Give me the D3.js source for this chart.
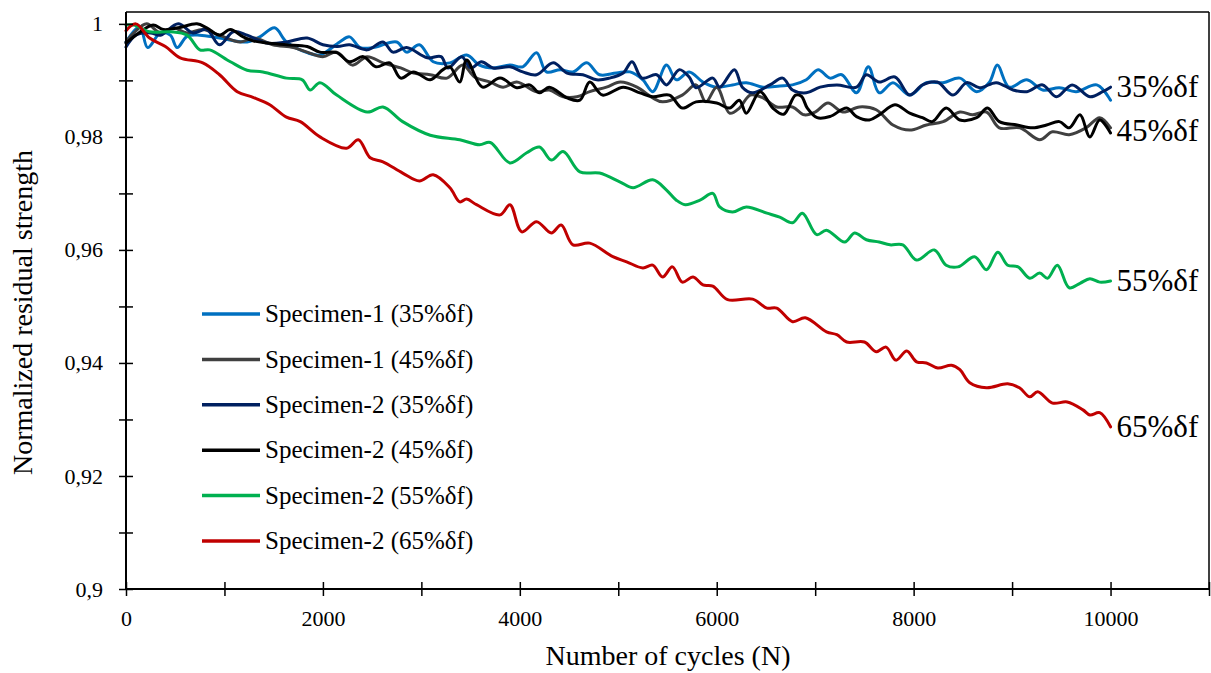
<!DOCTYPE html>
<html>
<head>
<meta charset="utf-8">
<script src="https://cdn.jsdelivr.net/npm/d3@7"></script>
<style>
  html, body { margin: 0; padding: 0; background: #fff; }
  svg { display: block; font-family: "Liberation Serif", "Times New Roman", serif; }
</style>
</head>
<body>
<svg id="chart" width="1211" height="673"></svg>
<script>
// Residual strength measurements: cycle counts and normalized strength per specimen/load level
const s1_35_cycles = [0,140,220,350,450,520,620,750,950,1230,1360,1510,1630,1840,1970,2170,2270,2380,2510,2750,2850,2980,3120,3290,3460,3590,3730,3900,4030,4170,4270,4410,4540,4680,4810,4980,5120,5250,5350,5490,5590,5720,5860,6000,6160,6300,6470,6640,6770,6910,7030,7150,7270,7420,7540,7650,7790,7960,8130,8300,8470,8640,8770,8850,8970,9150,9310,9480,9650,9860,10000];
const s1_35_values = [0.9968,0.9995,0.9958,0.9984,0.9980,0.9958,0.9978,0.9980,0.9975,0.9968,0.9977,0.9993,0.9968,0.9949,0.9945,0.9968,0.9977,0.9958,0.9958,0.9968,0.9950,0.9963,0.9933,0.9931,0.9945,0.9927,0.9922,0.9927,0.9924,0.9949,0.9915,0.9919,0.9915,0.9931,0.9910,0.9913,0.9915,0.9901,0.9880,0.9927,0.9901,0.9915,0.9897,0.9888,0.9892,0.9896,0.9888,0.9890,0.9892,0.9901,0.9919,0.9904,0.9910,0.9878,0.9924,0.9878,0.9896,0.9874,0.9896,0.9896,0.9904,0.9880,0.9897,0.9927,0.9888,0.9901,0.9883,0.9887,0.9880,0.9892,0.9865];

const s1_45_cycles = [0,80,210,350,480,620,780,950,1160,1300,1490,1700,1840,2000,2140,2300,2450,2610,2790,2920,3090,3260,3420,3540,3700,3830,3970,4170,4300,4440,4580,4710,4880,5020,5190,5350,5450,5650,5790,5890,6000,6130,6230,6340,6470,6610,6770,6890,7000,7130,7280,7450,7620,7790,7960,8130,8300,8470,8600,8740,8870,9080,9280,9410,9580,9750,9890,10000];
const s1_45_values = [0.9968,0.9984,1.0000,0.9984,0.9993,0.9984,0.9990,0.9980,0.9968,0.9975,0.9963,0.9958,0.9950,0.9942,0.9950,0.9927,0.9942,0.9931,0.9922,0.9913,0.9910,0.9904,0.9927,0.9906,0.9897,0.9888,0.9897,0.9880,0.9883,0.9871,0.9871,0.9880,0.9888,0.9897,0.9888,0.9869,0.9862,0.9874,0.9892,0.9862,0.9888,0.9842,0.9851,0.9874,0.9869,0.9853,0.9853,0.9839,0.9844,0.9860,0.9844,0.9853,0.9848,0.9821,0.9812,0.9821,0.9827,0.9844,0.9839,0.9844,0.9816,0.9816,0.9795,0.9809,0.9804,0.9816,0.9834,0.9816];

const s2_35_cycles = [0,100,250,350,530,680,820,950,1090,1230,1430,1630,1840,2000,2150,2270,2450,2610,2710,2850,3060,3200,3270,3410,3500,3610,3730,3900,4030,4170,4340,4480,4640,4780,4910,5050,5140,5240,5390,5490,5620,5720,5790,5960,6030,6180,6260,6365,6540,6670,6770,6910,7050,7220,7420,7520,7650,7810,7960,8090,8240,8400,8540,8670,8840,9010,9150,9310,9450,9610,9790,9920,10000];
const s2_35_values = [0.9959,0.9980,0.9984,0.9980,1.0000,0.9984,0.9990,0.9963,0.9986,0.9980,0.9966,0.9968,0.9975,0.9963,0.9960,0.9963,0.9954,0.9968,0.9950,0.9958,0.9940,0.9942,0.9922,0.9942,0.9922,0.9933,0.9922,0.9924,0.9915,0.9910,0.9931,0.9913,0.9910,0.9901,0.9904,0.9913,0.9933,0.9904,0.9910,0.9892,0.9919,0.9906,0.9887,0.9904,0.9888,0.9919,0.9888,0.9878,0.9892,0.9904,0.9883,0.9878,0.9888,0.9892,0.9888,0.9910,0.9897,0.9906,0.9874,0.9892,0.9897,0.9874,0.9896,0.9887,0.9896,0.9883,0.9880,0.9892,0.9871,0.9892,0.9871,0.9880,0.9888];

const s2_45_cycles = [0,130,275,380,530,720,820,950,1060,1190,1290,1430,1630,1840,1970,2140,2270,2410,2540,2680,2790,2920,3090,3220,3290,3390,3460,3620,3800,3970,4100,4200,4300,4480,4610,4710,4840,5050,5220,5350,5520,5650,5790,6000,6130,6230,6300,6440,6570,6680,6800,6860,6920,7020,7150,7320,7420,7550,7650,7810,7960,8090,8190,8330,8470,8640,8750,8870,9050,9210,9350,9480,9580,9690,9790,9890,10000];
const s2_45_values = [0.9966,0.9984,0.9998,0.9990,0.9993,1.0000,0.9993,0.9980,0.9990,0.9977,0.9970,0.9966,0.9963,0.9960,0.9950,0.9949,0.9933,0.9942,0.9924,0.9931,0.9904,0.9915,0.9901,0.9919,0.9924,0.9897,0.9936,0.9888,0.9904,0.9887,0.9892,0.9878,0.9888,0.9869,0.9865,0.9897,0.9874,0.9888,0.9878,0.9871,0.9874,0.9851,0.9862,0.9860,0.9851,0.9865,0.9842,0.9880,0.9851,0.9840,0.9874,0.9872,0.9851,0.9834,0.9836,0.9851,0.9836,0.9830,0.9839,0.9857,0.9842,0.9834,0.9827,0.9851,0.9830,0.9834,0.9851,0.9827,0.9821,0.9816,0.9821,0.9827,0.9816,0.9839,0.9800,0.9830,0.9807];

const s2_55_cycles = [0,80,240,450,620,750,850,1060,1230,1390,1630,1790,1870,1970,2140,2450,2610,2810,3090,3390,3590,3700,3900,4070,4200,4320,4440,4610,4810,5020,5150,5350,5490,5590,5680,5830,5960,6030,6160,6300,6510,6640,6770,6870,7015,7115,7300,7400,7520,7650,7760,7890,8030,8210,8330,8450,8620,8740,8855,8955,9060,9180,9280,9360,9460,9580,9690,9790,9890,10000];
const s2_55_values = [0.9998,0.9998,0.9986,0.9986,0.9980,0.9954,0.9954,0.9933,0.9918,0.9915,0.9904,0.9901,0.9883,0.9896,0.9874,0.9844,0.9853,0.9827,0.9803,0.9795,0.9786,0.9790,0.9754,0.9772,0.9782,0.9759,0.9774,0.9738,0.9736,0.9720,0.9710,0.9724,0.9706,0.9688,0.9680,0.9688,0.9700,0.9676,0.9667,0.9676,0.9665,0.9658,0.9648,0.9665,0.9627,0.9635,0.9614,0.9630,0.9618,0.9614,0.9609,0.9609,0.9582,0.9600,0.9573,0.9570,0.9588,0.9565,0.9596,0.9573,0.9570,0.9550,0.9559,0.9550,0.9573,0.9533,0.9541,0.9549,0.9543,0.9545];

const s2_65_cycles = [0,100,240,400,550,780,950,1130,1290,1460,1630,1770,1970,2240,2360,2480,2610,2810,2980,3120,3290,3390,3460,3560,3800,3900,4020,4170,4320,4420,4540,4710,4945,5085,5250,5350,5450,5550,5650,5760,5860,5960,6110,6365,6510,6610,6770,6900,7115,7220,7320,7500,7620,7720,7820,7930,8030,8130,8245,8385,8470,8570,8740,8955,9075,9180,9260,9410,9560,9720,9790,9890,10000];
const s2_65_values = [0.9988,1.0000,0.9975,0.9960,0.9940,0.9931,0.9910,0.9880,0.9870,0.9857,0.9835,0.9827,0.9800,0.9780,0.9795,0.9763,0.9756,0.9736,0.9722,0.9733,0.9710,0.9685,0.9690,0.9680,0.9662,0.9680,0.9632,0.9650,0.9630,0.9644,0.9609,0.9612,0.9588,0.9579,0.9568,0.9573,0.9552,0.9570,0.9543,0.9552,0.9538,0.9536,0.9512,0.9513,0.9497,0.9497,0.9473,0.9480,0.9455,0.9450,0.9437,0.9437,0.9420,0.9428,0.9405,0.9421,0.9402,0.9400,0.9391,0.9396,0.9388,0.9365,0.9356,0.9363,0.9356,0.9340,0.9349,0.9329,0.9331,0.9317,0.9308,0.9312,0.9287];

const seriesNames = ["Specimen-1 (35%δf)","Specimen-1 (45%δf)","Specimen-2 (35%δf)","Specimen-2 (45%δf)","Specimen-2 (55%δf)","Specimen-2 (65%δf)"];
const seriesColors = ["#0070C0","#404040","#002060","#000000","#00B050","#C00000"];
const seriesCycles = [s1_35_cycles, s1_45_cycles, s2_35_cycles, s2_45_cycles, s2_55_cycles, s2_65_cycles];
const seriesValues = [s1_35_values, s1_45_values, s2_35_values, s2_45_values, s2_55_values, s2_65_values];

// Load-level labels at the right end; each sits at the final value of the listed series
const endLabels = ["35%δf","45%δf","55%δf","65%δf"];
const endLabelSeries = [[2],[1,3],[4],[5]];

const xTicks = [0,1000,2000,3000,4000,5000,6000,7000,8000,9000,10000,11000];
const xTickLabels = ["0","","2000","","4000","","6000","","8000","","10000",""];
const yTicks = [0.90,0.91,0.92,0.93,0.94,0.95,0.96,0.97,0.98,0.99,1.00];
const yTickLabels = ["0,9","","0,92","","0,94","","0,96","","0,98","","1"];

const xDomain = [0, 11000];
const yDomain = [0.9, 1.0021];

const svg = d3.select("#chart");
const margin = {left: 126, top: 12, right: 2, bottom: 84};
const W = 1211, H = 673;
const iw = W - margin.left - margin.right;
const ih = H - margin.top - margin.bottom;

const x = d3.scaleLinear().domain(xDomain).range([0, iw]);
const y = d3.scaleLinear().domain(yDomain).range([ih, 0]);

const g = svg.append("g").attr("transform", `translate(${margin.left},${margin.top})`);

// thin frame on top and right
g.append("line").attr("x1", 0).attr("x2", iw).attr("y1", 0).attr("y2", 0)
  .attr("stroke", "#000").attr("stroke-width", 1.5);
g.append("line").attr("x1", iw).attr("x2", iw).attr("y1", 0).attr("y2", ih)
  .attr("stroke", "#000").attr("stroke-width", 1.5);

// series lines
const line = d3.line().x(d => x(d[0])).y(d => y(d[1])).curve(d3.curveCatmullRom.alpha(0.5));
seriesNames.forEach((name, i) => {
  const pts = seriesCycles[i].map((c, k) => [c, seriesValues[i][k]]);
  g.append("path").datum(pts)
    .attr("fill", "none")
    .attr("stroke", seriesColors[i])
    .attr("stroke-width", 3)
    .attr("stroke-linejoin", "round")
    .attr("stroke-linecap", "round")
    .attr("d", line);
});

// axes with ticks crossing the axis line
const yAxis = d3.axisLeft(y).tickValues(yTicks).tickSize(7).tickPadding(16)
  .tickFormat((d, i) => yTickLabels[i]);
const yg = g.append("g").call(yAxis);
yg.selectAll(".tick line").attr("x1", 7).attr("x2", -7).attr("stroke-width", 1.5);
yg.select(".domain").attr("d", `M0,0V${ih}`).attr("stroke-width", 2);
yg.selectAll("text").attr("font-size", 22).attr("fill", "#000")
  .attr("font-family", "Liberation Serif, serif");

const xAxis = d3.axisBottom(x).tickValues(xTicks).tickSize(7).tickPadding(14)
  .tickFormat((d, i) => xTickLabels[i]);
const xg = g.append("g").attr("transform", `translate(0,${ih})`).call(xAxis);
xg.selectAll(".tick line").attr("y1", -7).attr("y2", 7).attr("stroke-width", 1.5);
xg.select(".domain").attr("d", `M0,0H${iw}`).attr("stroke-width", 2);
xg.selectAll("text").attr("font-size", 22).attr("fill", "#000")
  .attr("font-family", "Liberation Serif, serif");

// axis titles
svg.append("text")
  .attr("transform", `translate(32,${margin.top + ih / 2 + 12}) rotate(-90)`)
  .attr("text-anchor", "middle").attr("font-size", 28).attr("fill", "#000")
  .text("Normalized residual strength");
svg.append("text")
  .attr("x", 668).attr("y", 665)
  .attr("text-anchor", "middle").attr("font-size", 28).attr("fill", "#000")
  .text("Number of cycles (N)");

// end-of-curve load labels
endLabels.forEach((lab, i) => {
  const idx = endLabelSeries[i];
  const v = d3.mean(idx, s => seriesValues[s][seriesValues[s].length - 1]);
  g.append("text")
    .attr("x", x(10000) + 6).attr("y", y(v)).attr("dy", "0.33em")
    .attr("font-size", 31).attr("fill", "#000")
    .text(lab);
});

// legend
const legend = svg.append("g").attr("transform", "translate(202,314)");
seriesNames.forEach((name, i) => {
  const row = legend.append("g").attr("transform", `translate(0,${i * 45.4})`);
  row.append("line").attr("x1", 0).attr("x2", 58).attr("y1", 0).attr("y2", 0)
    .attr("stroke", seriesColors[i]).attr("stroke-width", 3.5);
  row.append("text").attr("x", 63).attr("y", 0).attr("dy", "0.33em")
    .attr("font-size", 25).attr("fill", "#000").text(name);
});
</script>
</body>
</html>
